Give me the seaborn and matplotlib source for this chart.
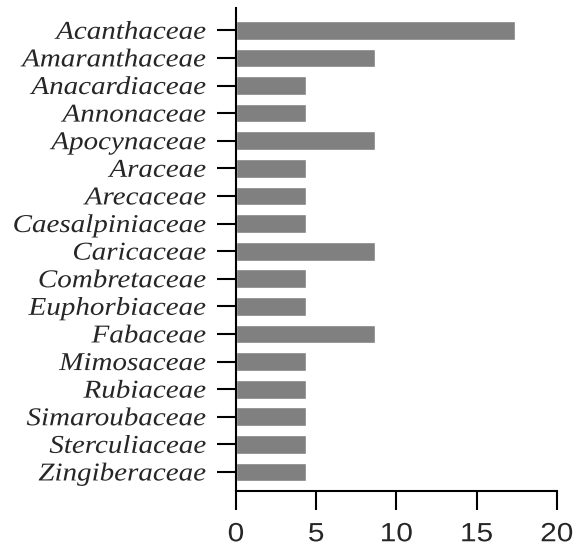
import matplotlib
matplotlib.use("Agg")
import matplotlib.pyplot as plt
import matplotlib.patheffects as pe
from matplotlib.transforms import Affine2D
import seaborn as sns
import pandas as pd

families = [
    "Acanthaceae", "Amaranthaceae", "Anacardiaceae", "Annonaceae", "Apocynaceae",
    "Araceae", "Arecaceae", "Caesalpiniaceae", "Caricaceae", "Combretaceae",
    "Euphorbiaceae", "Fabaceae", "Mimosaceae", "Rubiaceae", "Simaroubaceae",
    "Sterculiaceae", "Zingiberaceae",
]
percent = [17.39, 8.70, 4.35, 4.35, 8.70, 4.35, 4.35, 4.35, 8.70, 4.35,
           4.35, 8.70, 4.35, 4.35, 4.35, 4.35, 4.35]
x_ticks = [0, 5, 10, 15, 20]

df = pd.DataFrame({"family": families, "percent": percent})


class HStretch(pe.AbstractPathEffect):
    """Widen a text path horizontally about its right edge or its centre."""

    def __init__(self, sx, anchor="center"):
        super().__init__()
        self.sx = sx
        self.anchor = anchor

    def draw_path(self, renderer, gc, tpath, affine, rgbFace=None):
        ext = tpath.get_extents(affine)
        x0 = ext.x1 if self.anchor == "right" else 0.5 * (ext.x0 + ext.x1)
        stretch = Affine2D().translate(-x0, 0).scale(self.sx, 1).translate(x0, 0)
        renderer.draw_path(gc, tpath, affine + stretch, rgbFace)


sns.set_style("ticks")
plt.rcParams["font.family"] = ["Liberation Sans", "DejaVu Sans"]

fig = plt.figure(figsize=(5.74, 5.48), dpi=100)
ax = fig.add_axes([0.411, 0.104, 0.559, 0.881])

sns.barplot(data=df, x="percent", y="family", color="#808080", saturation=1,
            width=0.68, ax=ax, order=families)

ax.set_xlim(0, 20)
ax.set_ylim(16.69, -0.8)
ax.set_xticks(x_ticks)
ax.set_xticklabels([str(t) for t in x_ticks], fontsize=19)
ax.set_yticks(range(len(families)))
ax.set_yticklabels(families, fontsize=18.5, family="Liberation Serif", style="italic")
ax.set_xlabel("")
ax.set_ylabel("")

for lab in ax.get_xticklabels():
    lab.set_path_effects([HStretch(1.13, "center")])
for lab in ax.get_yticklabels():
    lab.set_path_effects([HStretch(1.13, "right")])

for side in ("top", "right"):
    ax.spines[side].set_visible(False)
for side in ("left", "bottom"):
    ax.spines[side].set_linewidth(1.5)
    ax.spines[side].set_color("black")
ax.tick_params(axis="both", length=13.5, width=1.5, color="black")
ax.tick_params(axis="x", pad=9)
ax.tick_params(axis="y", pad=8)

fig.savefig("out.png", dpi=100)
